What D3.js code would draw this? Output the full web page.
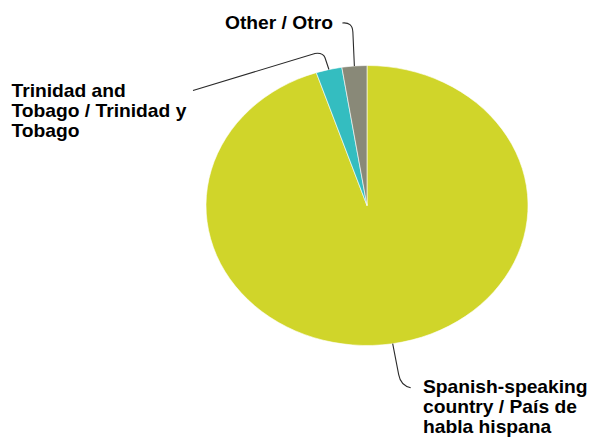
<!DOCTYPE html>
<html>
<head>
<meta charset="utf-8">
<script src="https://cdn.jsdelivr.net/npm/d3@7"></script>
<style>
  html, body { margin: 0; padding: 0; background: #fff; }
  svg { display: block; }
  text { font-family: "Liberation Sans", Arial, sans-serif; font-weight: bold; font-size: 17.5px; fill: #000; }
</style>
</head>
<body>
<svg id="chart" width="595" height="437"></svg>
<script>
// Share of respondents by country of origin
const categories = [
  "Spanish-speaking country / País de habla hispana",
  "Trinidad and Tobago / Trinidad y Tobago",
  "Other / Otro"
];
const shares = [94.9, 2.6, 2.5];
const sliceColors = ["#D0D52A", "#34BDC0", "#898978"];
const labelLines = [
  ["Spanish-speaking", "country / País de", "habla hispana"],
  ["Trinidad and", "Tobago / Trinidad y", "Tobago"],
  ["Other / Otro"]
];

// Layout
const W = 595, H = 437;
const cx = 367, cy = 205.5;
const ry = 140;          // vertical radius
const sx = 1.15;         // horizontal stretch of the pie
const tx = 1.1;          // horizontal stretch of the labels

const svg = d3.select("#chart");

const data = categories.map((c, i) => ({ name: c, value: shares[i], color: sliceColors[i], lines: labelLines[i] }));

const pie = d3.pie().sort(null).value(d => d.value);
const arcs = pie(data);
const arc = d3.arc().innerRadius(0).outerRadius(ry);

const g = svg.append("g").attr("transform", `translate(${cx},${cy}) scale(${sx},1)`);
g.selectAll("path")
  .data(arcs)
  .join("path")
  .attr("d", arc)
  .attr("fill", d => d.data.color)
  .attr("stroke", "#ffffff")
  .attr("stroke-width", 0.6)
  .attr("vector-effect", "non-scaling-stroke");

// point on the (stretched) rim at the middle of a slice
function rimPoint(d) {
  const a = (d.startAngle + d.endAngle) / 2;
  return [cx + sx * ry * Math.sin(a), cy - ry * Math.cos(a)];
}

// label placement and leader routing per slice
const labelLayout = [
  { x: 423, y: 393, lineH: 19.8, leader: p => `M${p[0]},${p[1]} L${p[0] + 6},${p[1] + 31} Q${p[0] + 8},${p[1] + 42} ${p[0] + 18},${p[1] + 44}` },
  { x: 11.5, y: 96.7, lineH: 20, leader: p => `M${p[0]},${p[1]} L${p[0] - 4},${p[1] - 12} Q${p[0] - 6},${p[1] - 17} ${p[0] - 14},${p[1] - 16} L193,${p[1] + 21}` },
  { x: 225, y: 29, lineH: 20, leader: p => `M${p[0]},${p[1]} L${p[0] - 1.5},${p[1] - 34} Q${p[0] - 2},${p[1] - 44} ${p[0] - 12},${p[1] - 43}` }
];

const leaders = svg.append("g")
  .attr("fill", "none")
  .attr("stroke", "#2a2a2a")
  .attr("stroke-width", 1.1);

arcs.forEach((d, i) => {
  const p = rimPoint(d);
  leaders.append("path").attr("d", labelLayout[i].leader(p));
});

const labels = svg.append("g");
arcs.forEach((d, i) => {
  const L = labelLayout[i];
  const t = labels.append("text")
    .attr("transform", `translate(${L.x},${L.y}) scale(${tx},1)`);
  d.data.lines.forEach((ln, j) => {
    t.append("tspan").attr("x", 0).attr("y", j * L.lineH).text(ln);
  });
});
</script>
</body>
</html>
